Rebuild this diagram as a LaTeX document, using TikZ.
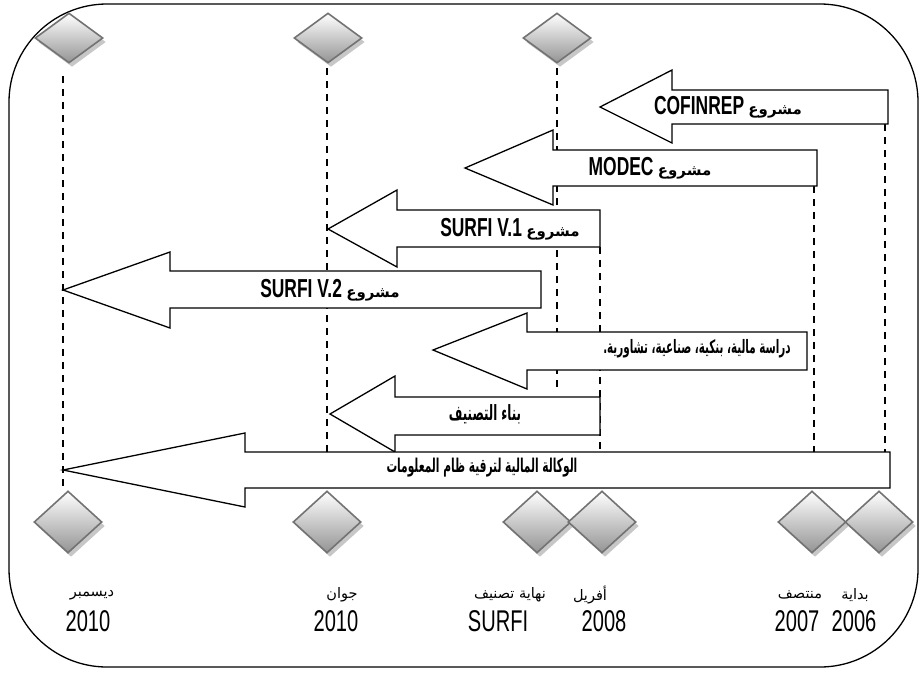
\documentclass[tikz,border=0pt]{standalone}
\usepackage{fontspec}
\usetikzlibrary{shapes.geometric,shadows}
\TeXXeTstate=1
\newfontfamily\arabicfont[Script=Arabic]{DejaVu Sans}
\newfontfamily\arabicnarrow[Script=Arabic,FakeStretch=0.56]{DejaVu Sans}
\newfontfamily\condfont[FakeStretch=0.67]{Liberation Sans}

% block arrow pointing left: tip x, tip y, head base x, head top, body top, body bottom, head bottom, right x
\newcommand\blockarrow[8]{%
  \draw[arrowbox] (#1,#2) -- (#3,#4) -- (#3,#5) -- (#8,#5) -- (#8,#6) -- (#3,#6) -- (#3,#7) -- cycle;}
\newcommand\projword{{\arabicfont\bfseries\fontsize{15}{18}\selectfont\beginR مشروع\endR}}

\tikzset{
  frame/.style={line width=1.3pt, rounded corners=98pt},
  guide/.style={line width=1.1pt, dash pattern=on 7pt off 6pt},
  arrowbox/.style={draw, fill=white, line width=1.3pt, line join=miter},
  milestone/.style={diamond, draw=black!55, line width=1.6pt, inner sep=0pt,
    top color=white, bottom color=black!42,
    drop shadow={shadow xshift=3pt, shadow yshift=-4pt, fill=black!22, opacity=1}},
  topmark/.style={milestone, minimum width=68pt, minimum height=50pt},
  botmark/.style={milestone, minimum width=68pt, minimum height=62pt},
  tag/.style={inner sep=0pt, font=\condfont\bfseries\fontsize{26}{30}\selectfont},
  arlabel/.style={inner sep=0pt, font=\arabicnarrow\bfseries},
  datetxt/.style={inner sep=0pt, font=\arabicfont\fontsize{14.5}{17}\selectfont},
  yeartxt/.style={inner sep=0pt, font=\condfont\fontsize{30}{34}\selectfont}
}

\begin{document}
\begin{tikzpicture}[x=1pt, y=-1pt]
\useasboundingbox (0,0) rectangle (920,675);

% outer frame
\draw[frame] (9,4) rectangle (918,667);

% vertical guide lines
\coordinate (g1a) at (63,76);   \coordinate (g1b) at (63,492);
\coordinate (g2a) at (327,68);  \coordinate (g2b) at (327,452);
\coordinate (g3a) at (557,68);  \coordinate (g3b) at (557,392);
\coordinate (g4a) at (600,247); \coordinate (g4b) at (600,452);
\coordinate (g5a) at (814,186); \coordinate (g5b) at (814,452);
\coordinate (g6a) at (885,124); \coordinate (g6b) at (885,452);
\foreach \g in {g1,g2,g3,g4,g5,g6} \draw[guide] (\g a) -- (\g b);

% milestones, top row
\node[topmark] (t1) at (69,38) {};
\node[topmark] (t2) at (328,38) {};
\node[topmark] (t3) at (557,38) {};

% milestones, bottom row
\node[botmark] (b1) at (68,522) {};
\node[botmark] (b2) at (327,522) {};
\node[botmark] (b3) at (537,522) {};
\node[botmark] (b4) at (602,522) {};
\node[botmark] (b5) at (812,522) {};
\node[botmark] (b6) at (879,522) {};

% project arrows
\blockarrow{600}{107}{672}{70}{90}{124}{143}{888}
\node[tag] (cofinrep) at (728,107) {COFINREP\,\projword};

\blockarrow{465}{168}{553}{130}{150}{186}{205}{817}
\node[tag] (modec) at (650,168) {MODEC\,\projword};

\blockarrow{328}{229}{397}{190}{210}{247}{267}{600}
\node[tag] (surfi1) at (510,229) {SURFI V.1\,\projword};

\blockarrow{63}{290}{170}{252}{271}{308}{328}{541}
\node[tag] (surfi2) at (330,290) {SURFI V.2\,\projword};

\blockarrow{433}{350}{527}{313}{332}{370}{389}{807}
\node[arlabel] (etudes) at (697,349) {\fontsize{18.5}{20}\selectfont\beginR دراسة مالية، بنكية، صناعية، تشاورية.\endR};

\blockarrow{330}{414}{395}{376}{397}{435}{452}{600}
\node[arlabel] (classif) at (485,414) {\fontsize{21}{23}\selectfont\beginR بناء التصنيف\endR};

\blockarrow{63}{470}{245}{433}{452}{488}{507}{890}
\node[arlabel] (agence) at (482,468) {\fontsize{19}{21}\selectfont\beginR الوكالة المالية لترقية ظام المعلومات\endR};

% dates under the bottom milestones
\node[datetxt] (m1) at (92,595) {\beginR ديسمبر\endR};
\node[yeartxt] (y1) at (88,621) {2010};
\node[datetxt] (m2) at (342,595) {\beginR جوان\endR};
\node[yeartxt] (y2) at (336,621) {2010};
\node[datetxt] (m3) at (510,595) {\beginR نهاية تصنيف\endR};
\node[yeartxt] (y3) at (498,621) {SURFI};
\node[datetxt] (m4) at (590,595) {\beginR أفريل\endR};
\node[yeartxt] (y4) at (604,621) {2008};
\node[datetxt] (m5) at (800,595) {\beginR منتصف\endR};
\node[yeartxt] (y5) at (797,621) {2007};
\node[datetxt] (m6) at (855,595) {\beginR بداية\endR};
\node[yeartxt] (y6) at (854,621) {2006};
\end{tikzpicture}
\end{document}
